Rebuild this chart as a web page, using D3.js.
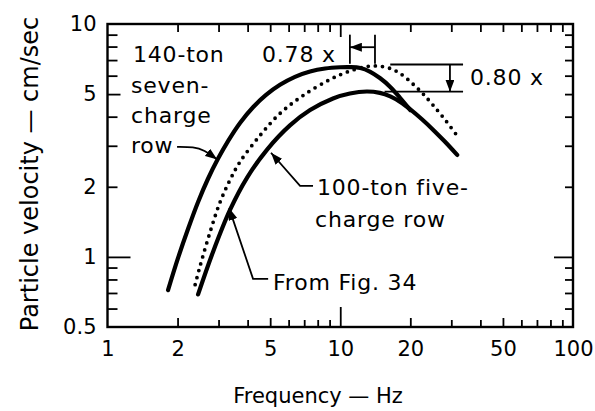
<!DOCTYPE html>
<html>
<head>
<meta charset="utf-8">
<script src="https://cdnjs.cloudflare.com/ajax/libs/d3/7.8.5/d3.min.js"></script>
<style>
body { margin: 0; background: #fff; }
svg { display: block; }
text { font-family: "DejaVu Sans", sans-serif; fill: #000; }
</style>
</head>
<body>
<svg width="595" height="411"></svg>
<script>
// values: frequency (Hz) and particle velocity (cm/sec)
var freq140 = [1.82, 2.01, 2.22, 2.45, 2.70, 2.99, 3.30, 3.71, 4.22, 4.80, 5.51, 6.39, 7.42, 8.61, 9.98, 11.0, 12.2, 13.4, 14.8, 16.4, 18.1, 20.0];
var vel140  = [0.72, 0.99, 1.32, 1.72, 2.16, 2.65, 3.15, 3.76, 4.39, 4.96, 5.48, 5.93, 6.25, 6.44, 6.52, 6.53, 6.47, 6.25, 5.86, 5.37, 4.81, 4.27];

var freq100 = [2.45, 2.84, 3.36, 3.98, 4.85, 6.08, 7.42, 9.31, 11.0, 13.0, 14.8, 16.4, 18.1, 20.0, 22.5, 25.1, 28.2, 31.8];
var vel100  = [0.69, 1.05, 1.59, 2.19, 2.89, 3.67, 4.27, 4.79, 5.03, 5.13, 5.06, 4.89, 4.63, 4.30, 3.89, 3.51, 3.12, 2.74];

var freqFig34 = [2.38, 2.50, 2.76, 3.04, 3.36, 3.71, 4.52, 5.51, 6.92, 9.04, 11.0, 13.0, 14.5, 16.4, 18.1, 20.5, 22.7, 25.1, 28.5, 32.1];
var velFig34  = [0.76, 0.915, 1.28, 1.71, 2.14, 2.56, 3.32, 4.13, 4.93, 5.78, 6.28, 6.57, 6.60, 6.44, 6.13, 5.53, 5.01, 4.47, 3.83, 3.27];

var xTicks = [1, 2, 5, 10, 20, 50, 100];
var yTicks = [0.5, 1, 2, 5, 10];
var xMinor = [2, 3, 4, 5, 6, 7, 8, 9, 10, 20, 30, 40, 50, 60, 70, 80, 90];
var yMinor = [0.6, 0.7, 0.8, 0.9, 1, 2, 3, 4, 5, 6, 7, 8, 9];

// peak shift (0.78 x) and peak drop (0.80 x)
var shiftFreq = [11, 14.1];
var dropVel = [6.7, 5.12];

var svg = d3.select('svg');
var x = d3.scaleLog().domain([1, 100]).range([107.5, 573]);
var y = d3.scaleLog().domain([0.5, 10]).range([327, 24]);

var defs = svg.append('defs');
defs.append('marker')
  .attr('id', 'arr')
  .attr('markerUnits', 'userSpaceOnUse')
  .attr('markerWidth', 13).attr('markerHeight', 9)
  .attr('refX', 12).attr('refY', 4.5)
  .attr('orient', 'auto')
  .append('path').attr('d', 'M0,0 L12,4.5 L0,9 Z').attr('fill', '#000');

// ticks (inside the frame)
var axBottom = svg.append('g').attr('transform', 'translate(0,327)')
  .call(d3.axisBottom(x).tickValues(xMinor).tickSize(0).tickFormat(''));
axBottom.selectAll('.tick line').attr('y2', function(d) { return d === 10 ? -20 : (d === 2 || d === 5 || d === 20 || d === 50 ? -9 : -7); });

var axTop = svg.append('g').attr('transform', 'translate(0,24)')
  .call(d3.axisTop(x).tickValues(xMinor).tickSize(0).tickFormat(''));
axTop.selectAll('.tick line').attr('y2', function(d) { return d === 10 ? 13 : 8; });

var axLeft = svg.append('g').attr('transform', 'translate(107.5,0)')
  .call(d3.axisLeft(y).tickValues(yMinor).tickSize(0).tickFormat(''));
axLeft.selectAll('.tick line').attr('x2', function(d) { return d === 1 ? 23 : (d === 5 ? 13 : 10); });

var axRight = svg.append('g').attr('transform', 'translate(573,0)')
  .call(d3.axisRight(y).tickValues(yMinor).tickSize(0).tickFormat(''));
axRight.selectAll('.tick line').attr('x2', function(d) { return d === 1 ? -19 : -8; });

svg.selectAll('.domain').remove();
svg.selectAll('.tick line').attr('stroke', '#000').attr('stroke-width', 1.8);

svg.append('rect')
  .attr('x', x(1)).attr('y', y(10))
  .attr('width', x(100) - x(1)).attr('height', y(0.5) - y(10))
  .attr('fill', 'none').attr('stroke', '#000').attr('stroke-width', 2.4);

// tick labels
var xl = svg.append('g').attr('transform', 'translate(0,327)')
  .call(d3.axisBottom(x).tickValues(xTicks).tickSize(0).tickPadding(14).tickFormat(d3.format('d')));
var yl = svg.append('g').attr('transform', 'translate(107.5,0)')
  .call(d3.axisLeft(y).tickValues(yTicks).tickSize(0).tickPadding(11).tickFormat(function(d) { return String(d); }));
svg.selectAll('.domain').remove();
xl.selectAll('text').attr('font-size', 21).attr('font-family', '"DejaVu Sans", sans-serif');
yl.selectAll('text').attr('font-size', 21).attr('font-family', '"DejaVu Sans", sans-serif');

// axis titles
svg.append('text')
  .attr('x', 318).attr('y', 403)
  .attr('text-anchor', 'middle').attr('font-size', 21)
  .text('Frequency — Hz');
svg.append('text')
  .attr('transform', 'translate(38,174) rotate(-90)')
  .attr('text-anchor', 'middle').attr('font-size', 24)
  .text('Particle velocity — cm/sec');

// curves
var line = d3.line()
  .x(function(d) { return x(d[0]); })
  .y(function(d) { return y(d[1]); })
  .curve(d3.curveCatmullRom.alpha(0.5));

svg.append('path')
  .datum(d3.zip(freq140, vel140))
  .attr('d', line)
  .attr('fill', 'none').attr('stroke', '#000').attr('stroke-width', 4.2).attr('stroke-linecap', 'round');

svg.append('path')
  .datum(d3.zip(freq100, vel100))
  .attr('d', line)
  .attr('fill', 'none').attr('stroke', '#000').attr('stroke-width', 4.2).attr('stroke-linecap', 'round');

svg.append('path')
  .datum(d3.zip(freqFig34, velFig34))
  .attr('d', line)
  .attr('fill', 'none').attr('stroke', '#000').attr('stroke-width', 3.8)
  .attr('stroke-linecap', 'round').attr('stroke-dasharray', '0 7.2');

// annotations
var plain = d3.line()
  .x(function(d) { return x(d[0]); })
  .y(function(d) { return y(d[1]); });
var bent = d3.line()
  .x(function(d) { return x(d[0]); })
  .y(function(d) { return y(d[1]); })
  .curve(d3.curveBasis);

function lead(pts, gen, head) {
  svg.append('path')
    .attr('d', gen(pts))
    .attr('fill', 'none').attr('stroke', '#000').attr('stroke-width', 1.8)
    .attr('marker-end', head ? 'url(#arr)' : null);
}

// 0.78 x bracket
shiftFreq.forEach(function(f) { lead([[f, 9.0], [f, 6.75]], plain, false); });
lead([[shiftFreq[1], 7.95], [shiftFreq[0], 7.95]], plain, true);

// 0.80 x bracket
lead([[16.4, dropVel[0]], [33.7, dropVel[0]]], plain, false);
lead([[15.5, dropVel[1]], [33.7, dropVel[1]]], plain, false);
lead([[29.6, dropVel[0]], [29.6, dropVel[1]]], plain, true);

// leaders
lead([[1.99, 2.97], [2.35, 2.97], [2.6, 2.88], [2.96, 2.62]], bent, true);
lead([[7.64, 2.02], [6.72, 2.02], [5.04, 2.8]], plain, true);
lead([[4.9, 0.805], [4.22, 0.805], [3.33, 1.62]], plain, true);

var labels = [
  ['140-ton', 133, 62], ['seven-', 131, 93], ['charge', 131, 123], ['row', 131, 153],
  ['0.78 x', 262, 62], ['0.80 x', 470, 85],
  ['100-ton five-', 317, 195], ['charge row', 315, 227],
  ['From Fig. 34', 273, 290]
];
svg.selectAll('text.note')
  .data(labels)
  .enter().append('text')
  .attr('class', 'note')
  .attr('x', function(d) { return d[1]; })
  .attr('y', function(d) { return d[2]; })
  .attr('font-size', 22)
  .attr('letter-spacing', 0.8)
  .text(function(d) { return d[0]; });
</script>
</body>
</html>
